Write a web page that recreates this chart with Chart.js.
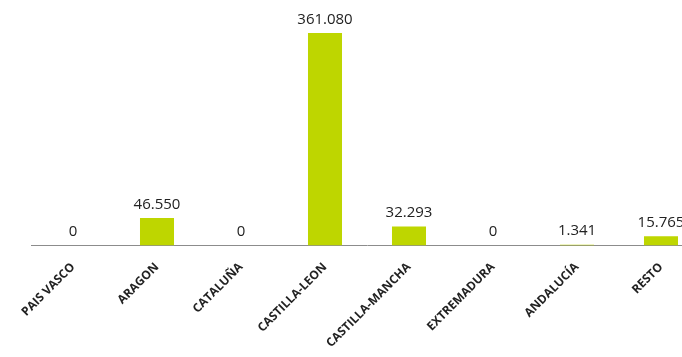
<!DOCTYPE html>
<html>
<head>
<meta charset="utf-8">
<script src="https://cdn.jsdelivr.net/npm/chart.js@4"></script>
<style>
  html, body { margin: 0; padding: 0; background: #fff; overflow: hidden; }
  #wrap { width: 712px; height: 357px; }
</style>
</head>
<body>
<div id="wrap"><canvas id="chart" width="712" height="357"></canvas></div>
<script>
const regions = ['PAIS VASCO', 'ARAGON', 'CATALUÑA', 'CASTILLA-LEON', 'CASTILLA-MANCHA', 'EXTREMADURA', 'ANDALUCÍA', 'RESTO'];
const values = [0, 46550, 0, 361080, 32293, 0, 1341, 15765];
const valueLabels = ['0', '46.550', '0', '361.080', '32.293', '0', '1.341', '15.765'];

const barColor = '#bed600';

// value labels above each bar
const valueLabelPlugin = {
  id: 'valueLabels',
  afterDatasetsDraw(chart) {
    const ctx = chart.ctx;
    const meta = chart.getDatasetMeta(0);
    ctx.save();
    ctx.font = '15px "Open Sans", sans-serif';
    ctx.fillStyle = '#222';
    ctx.textAlign = 'center';
    ctx.textBaseline = 'bottom';
    meta.data.forEach((bar, i) => {
      ctx.fillText(valueLabels[i], bar.x, bar.y - 6);
    });
    ctx.restore();
  }
};

new Chart(document.getElementById('chart').getContext('2d'), {
  type: 'bar',
  data: {
    labels: regions,
    datasets: [{
      data: values,
      backgroundColor: barColor,
      borderWidth: 0,
      barPercentage: 0.405,
      categoryPercentage: 1
    }]
  },
  options: {
    responsive: false,
    animation: false,
    layout: { padding: { top: 10, left: 31, right: 9 } },
    plugins: {
      legend: { display: false },
      tooltip: { enabled: false }
    },
    scales: {
      x: {
        grid: { display: false },
        border: { display: true, color: '#8c8c8c', width: 1 },
        ticks: {
          minRotation: 45,
          maxRotation: 45,
          padding: 6.5,
          color: '#222',
          font: { family: '"Open Sans", sans-serif', size: 12, weight: 'bold' }
        }
      },
      y: {
        display: false,
        min: 0,
        max: 400000
      }
    }
  },
  plugins: [valueLabelPlugin]
});
</script>
</body>
</html>
